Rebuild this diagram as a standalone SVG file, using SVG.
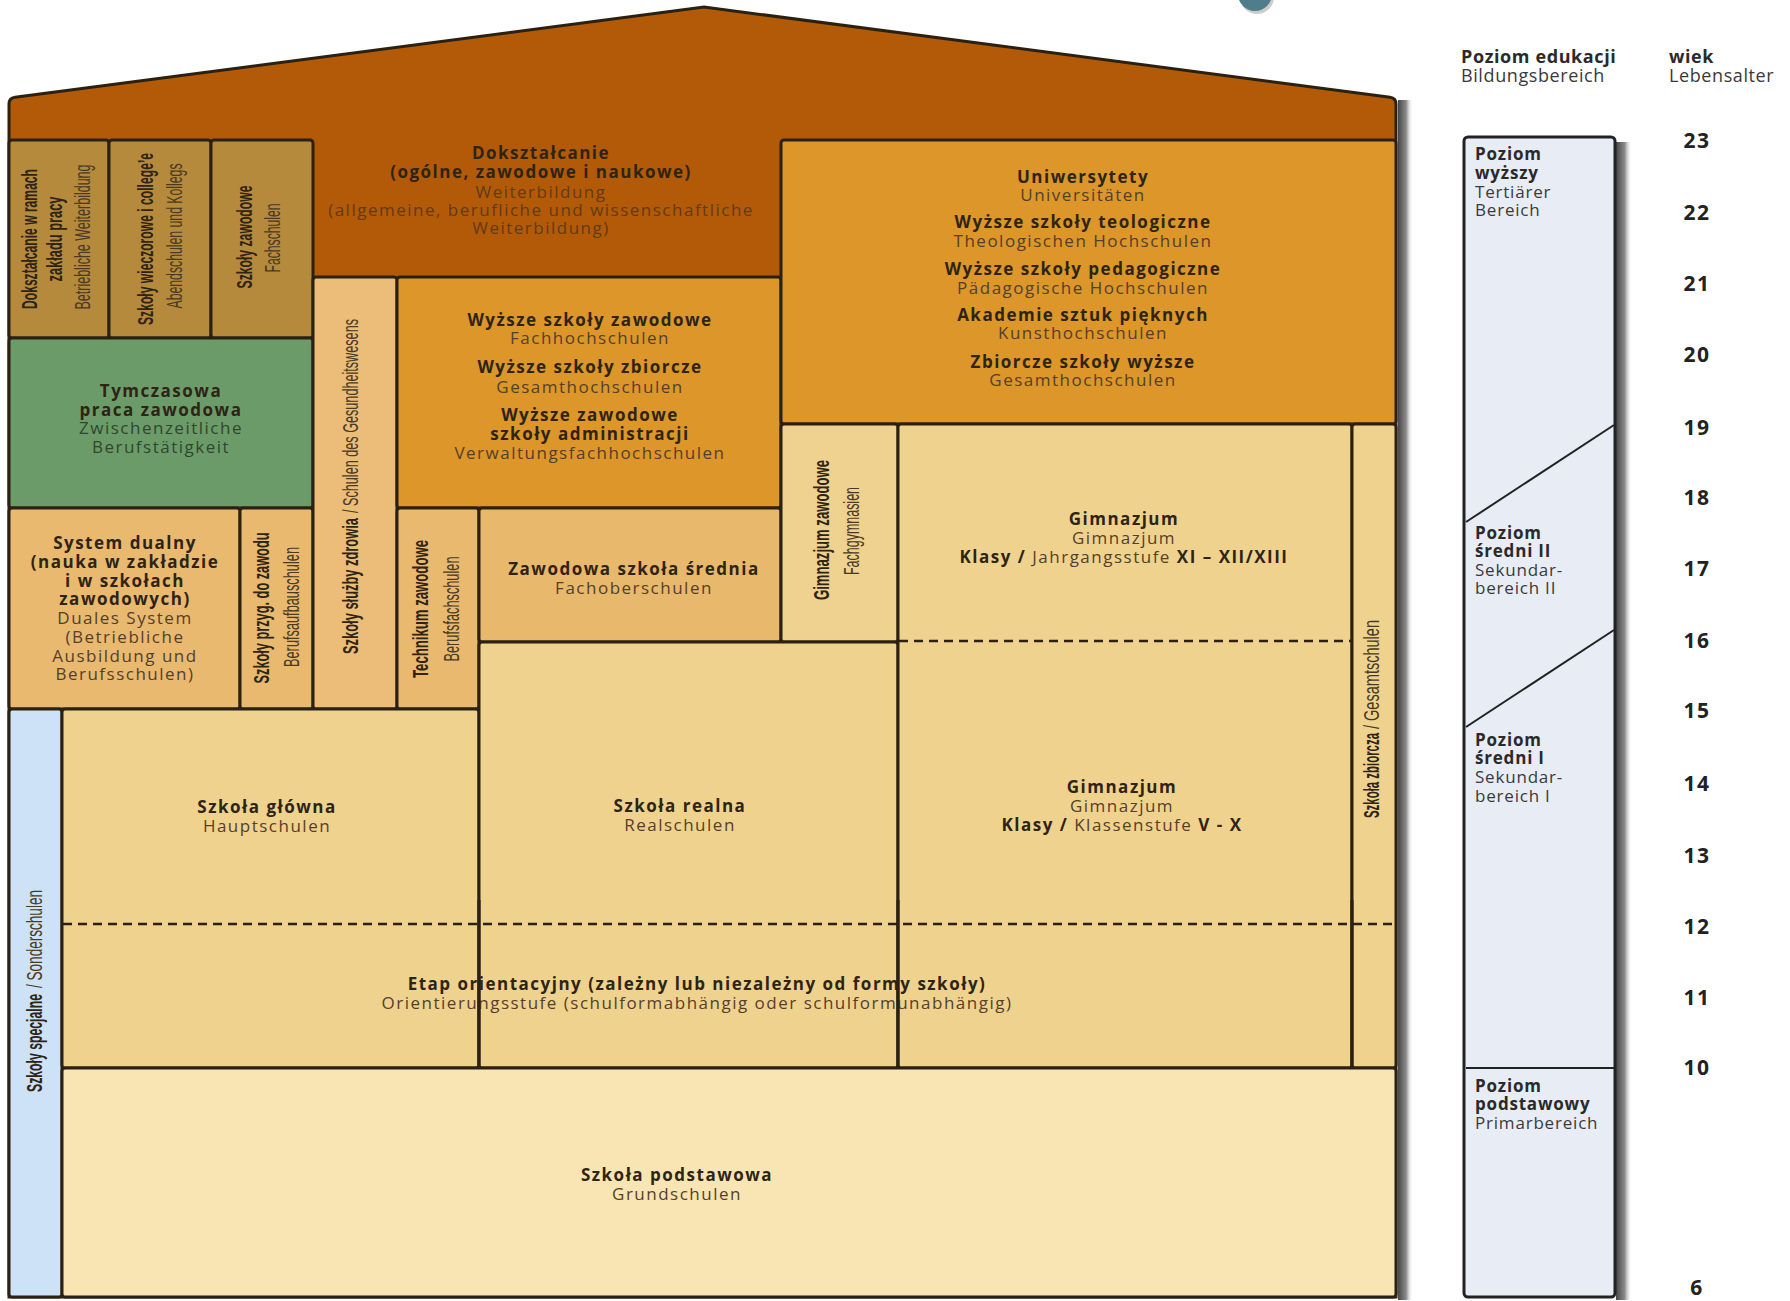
<svg xmlns="http://www.w3.org/2000/svg" width="1790" height="1301" viewBox="0 0 1790 1301">
<defs>
<linearGradient id="sh" x1="0" y1="0" x2="1" y2="0">
<stop offset="0" stop-color="#474747"/>
<stop offset="0.55" stop-color="#8c8c8c"/>
<stop offset="1" stop-color="#ffffff" stop-opacity="0"/>
</linearGradient>
<style>
.box{stroke:#2b2112;stroke-width:3}
.b{font-family:"Open Sans","DejaVu Sans",sans-serif;font-weight:700;font-size:17px;letter-spacing:1.5px;fill:#2e2414;text-anchor:middle}
.r{font-family:"Open Sans","DejaVu Sans",sans-serif;font-weight:400;font-size:17px;letter-spacing:1.5px;fill:#54402a;text-anchor:middle}
.rd{fill:#633a14}
.rg{fill:#2f472d}
.bw{font-weight:700;fill:#2e2414}
.vb{font-family:"Liberation Sans",Arial,sans-serif;font-weight:700;font-size:22px;fill:#2e2414}
.vr{font-family:"Liberation Sans",Arial,sans-serif;font-weight:400;font-size:22px;fill:#4a3a22}
.m{text-anchor:middle}
.pb{font-family:"Open Sans","DejaVu Sans",sans-serif;font-weight:700;font-size:17px;letter-spacing:0.8px;fill:#2a2a2a}
.pr{font-family:"Open Sans","DejaVu Sans",sans-serif;font-weight:400;font-size:17px;letter-spacing:0.8px;fill:#3a3a3a}
.hb{font-family:"Open Sans","DejaVu Sans",sans-serif;font-weight:700;font-size:18px;letter-spacing:0.6px;fill:#2a2a2a}
.hr{font-family:"Open Sans","DejaVu Sans",sans-serif;font-weight:400;font-size:18px;letter-spacing:0.6px;fill:#3a3a3a}
.age{font-family:"Open Sans","DejaVu Sans",sans-serif;font-weight:700;font-size:21px;letter-spacing:1.5px;fill:#222;text-anchor:middle}
.dash{stroke:#2b2112;stroke-width:2.5;stroke-dasharray:9 6;fill:none}
.sol{stroke:#2b2112;stroke-width:3;fill:none}
</style>
</defs>
<rect width="1790" height="1301" fill="#ffffff"/>

<g id="ornament">
<circle cx="1257" cy="-3" r="17" fill="#9a9a9a" opacity="0.5"/>
<circle cx="1255" cy="-6" r="17" fill="#4f7d8c"/>
</g>

<g id="house">
<rect x="1398" y="100" width="15" height="1200" fill="url(#sh)"/>
<path d="M9,1297 L9,104 Q9,98 15,97.2 L704,7 L1390,97.2 Q1396,98 1396,104 L1396,1297 Z" fill="#b25a08" stroke="#2b2112" stroke-width="3"/>
</g>

<g id="doksztalcanie">
<text class="b" x="541" y="159">Dokształcanie</text>
<text class="b" x="541" y="178">(ogólne, zawodowe i naukowe)</text>
<text class="r rd" x="541" y="198">Weiterbildung</text>
<text class="r rd" x="541" y="216">(allgemeine, berufliche und wissenschaftliche</text>
<text class="r rd" x="541" y="234">Weiterbildung)</text>
</g>

<g id="betriebliche">
<rect class="box" x="9" y="140" width="100" height="198" rx="3" fill="#b68a3d"/>
<g transform="translate(37,239) rotate(-90)"><text class="vb m" textLength="140" lengthAdjust="spacingAndGlyphs">Dokształcanie w ramach</text></g>
<g transform="translate(62,239) rotate(-90)"><text class="vb m" textLength="85" lengthAdjust="spacingAndGlyphs">zakładu pracy</text></g>
<g transform="translate(90,237) rotate(-90)"><text class="vr m" textLength="145" lengthAdjust="spacingAndGlyphs">Betriebliche Weiterbildung</text></g>
</g>

<g id="abendschulen">
<rect class="box" x="109" y="140" width="102" height="198" rx="3" fill="#b68a3d"/>
<g transform="translate(153,239) rotate(-90)"><text class="vb m" textLength="172" lengthAdjust="spacingAndGlyphs">Szkoły wieczorowe i college’e</text></g>
<g transform="translate(182,236) rotate(-90)"><text class="vr m" textLength="145" lengthAdjust="spacingAndGlyphs">Abendschulen und Kollegs</text></g>
</g>

<g id="fachschulen">
<rect class="box" x="211" y="140" width="102" height="198" rx="3" fill="#b68a3d"/>
<g transform="translate(252,237) rotate(-90)"><text class="vb m" textLength="103" lengthAdjust="spacingAndGlyphs">Szkoły zawodowe</text></g>
<g transform="translate(280,238) rotate(-90)"><text class="vr m" textLength="69" lengthAdjust="spacingAndGlyphs">Fachschulen</text></g>
</g>

<g id="tymczasowa">
<rect class="box" x="9" y="338" width="304" height="170" rx="3" fill="#6c9b6a"/>
<text class="b" x="161" y="397">Tymczasowa</text>
<text class="b" x="161" y="416">praca zawodowa</text>
<text class="r rg" x="161" y="434">Zwischenzeitliche</text>
<text class="r rg" x="161" y="453">Berufstätigkeit</text>
</g>

<g id="dualny">
<rect class="box" x="9" y="508" width="231" height="201" rx="3" fill="#e9b96f"/>
<text class="b" x="125" y="549">System dualny</text>
<text class="b" x="125" y="568">(nauka w zakładzie</text>
<text class="b" x="125" y="587">i w szkołach</text>
<text class="b" x="125" y="605">zawodowych)</text>
<text class="r" x="125" y="624">Duales System</text>
<text class="r" x="125" y="643">(Betriebliche</text>
<text class="r" x="125" y="662">Ausbildung und</text>
<text class="r" x="125" y="680">Berufsschulen)</text>
</g>

<g id="berufsaufbauschulen">
<rect class="box" x="240" y="508" width="73" height="201" rx="3" fill="#e9b96f"/>
<g transform="translate(269,608) rotate(-90)"><text class="vb m" textLength="151" lengthAdjust="spacingAndGlyphs">Szkoły przyg. do zawodu</text></g>
<g transform="translate(299,607) rotate(-90)"><text class="vr m" textLength="120" lengthAdjust="spacingAndGlyphs">Berufsaufbauschulen</text></g>
</g>

<g id="gesundheitswesen">
<rect class="box" x="313" y="277" width="84" height="432" rx="3" fill="#ebbd78"/>
<g transform="translate(358,654) rotate(-90)">
<text class="vb" x="0" y="0" textLength="136" lengthAdjust="spacingAndGlyphs">Szkoły służby zdrowia</text>
<text class="vr" x="141" y="0" textLength="194" lengthAdjust="spacingAndGlyphs">/ Schulen des Gesundheitswesens</text>
</g>
</g>

<g id="fachhochschulen">
<rect class="box" x="397" y="277" width="384" height="231" rx="3" fill="#dc9629"/>
<text class="b" x="590" y="326">Wyższe szkoły zawodowe</text>
<text class="r" x="590" y="344">Fachhochschulen</text>
<text class="b" x="590" y="373">Wyższe szkoły zbiorcze</text>
<text class="r" x="590" y="393">Gesamthochschulen</text>
<text class="b" x="590" y="421">Wyższe zawodowe</text>
<text class="b" x="590" y="440">szkoły administracji</text>
<text class="r" x="590" y="459">Verwaltungsfachhochschulen</text>
</g>

<g id="berufsfachschulen">
<rect class="box" x="397" y="508" width="82" height="201" rx="3" fill="#e9b96f"/>
<g transform="translate(428,609) rotate(-90)"><text class="vb m" textLength="138" lengthAdjust="spacingAndGlyphs">Technikum zawodowe</text></g>
<g transform="translate(459,609) rotate(-90)"><text class="vr m" textLength="105" lengthAdjust="spacingAndGlyphs">Berufsfachschulen</text></g>
</g>

<g id="fachoberschulen">
<rect class="box" x="479" y="508" width="302" height="134" rx="3" fill="#e8b86d"/>
<text class="b" x="634" y="575">Zawodowa szkoła średnia</text>
<text class="r" x="634" y="594">Fachoberschulen</text>
</g>

<g id="universitaeten">
<rect class="box" x="781" y="140" width="615" height="284" rx="3" fill="#dc9629"/>
<text class="b" x="1083" y="183">Uniwersytety</text>
<text class="r" x="1083" y="201">Universitäten</text>
<text class="b" x="1083" y="228">Wyższe szkoły teologiczne</text>
<text class="r" x="1083" y="247">Theologischen Hochschulen</text>
<text class="b" x="1083" y="275">Wyższe szkoły pedagogiczne</text>
<text class="r" x="1083" y="294">Pädagogische Hochschulen</text>
<text class="b" x="1083" y="321">Akademie sztuk pięknych</text>
<text class="r" x="1083" y="339">Kunsthochschulen</text>
<text class="b" x="1083" y="368">Zbiorcze szkoły wyższe</text>
<text class="r" x="1083" y="386">Gesamthochschulen</text>
</g>

<g id="fachgymnasien">
<rect class="box" x="781" y="424" width="117" height="218" rx="3" fill="#f0d290"/>
<g transform="translate(829,530) rotate(-90)"><text class="vb m" textLength="140" lengthAdjust="spacingAndGlyphs">Gimnazjum zawodowe</text></g>
<g transform="translate(859,531) rotate(-90)"><text class="vr m" textLength="88" lengthAdjust="spacingAndGlyphs">Fachgymnasien</text></g>
</g>

<g id="sonderschulen">
<rect class="box" x="9" y="709" width="53" height="588" rx="3" fill="#cde1f7"/>
<g transform="translate(42,1092) rotate(-90)">
<text class="vb" x="0" y="0" textLength="98" lengthAdjust="spacingAndGlyphs">Szkoły specjalne</text>
<text class="vr" x="104" y="0" textLength="98" lengthAdjust="spacingAndGlyphs">/ Sonderschulen</text>
</g>
</g>

<g id="hauptschulen">
<rect class="box" x="62" y="709" width="417" height="359" rx="3" fill="#f0d28f"/>
<text class="b" x="267" y="813">Szkoła główna</text>
<text class="r" x="267" y="832">Hauptschulen</text>
</g>

<g id="realschulen">
<rect class="box" x="479" y="642" width="419" height="426" rx="3" fill="#f0d28f"/>
<text class="b" x="680" y="812">Szkoła realna</text>
<text class="r" x="680" y="831">Realschulen</text>
</g>

<g id="gymnasium">
<rect class="box" x="898" y="424" width="454" height="644" rx="3" fill="#f0d28f"/>
<text class="b" x="1124" y="525">Gimnazjum</text>
<text class="r" x="1124" y="544">Gimnazjum</text>
<text class="r" x="1124" y="563"><tspan class="bw">Klasy /</tspan> Jahrgangsstufe <tspan class="bw">XI – XII/XIII</tspan></text>
<text class="b" x="1122" y="793">Gimnazjum</text>
<text class="r" x="1122" y="812">Gimnazjum</text>
<text class="r" x="1122" y="831"><tspan class="bw">Klasy /</tspan> Klassenstufe <tspan class="bw">V - X</tspan></text>
</g>

<g id="gesamtschulen">
<rect class="box" x="1352" y="424" width="44" height="644" rx="3" fill="#f0d28f"/>
<g transform="translate(1379,818) rotate(-90)">
<text class="vb" x="0" y="0" textLength="85" lengthAdjust="spacingAndGlyphs">Szkoła zbiorcza</text>
<text class="vr" x="89" y="0" textLength="109" lengthAdjust="spacingAndGlyphs">/ Gesamtschulen</text>
</g>
</g>

<g id="orientierungsstufe">
<text class="b" x="697" y="990">Etap orientacyjny (zależny lub niezależny od formy szkoły)</text>
<text class="r" x="697" y="1009">Orientierungsstufe (schulformabhängig oder schulformunabhängig)</text>
</g>

<g id="grundschulen">
<rect class="box" x="62" y="1068" width="1334" height="229" rx="3" fill="#f8e5b3"/>
<text class="b" x="677" y="1181">Szkoła podstawowa</text>
<text class="r" x="677" y="1200">Grundschulen</text>
</g>

<g id="connectors">
<line class="dash" x1="899" y1="641" x2="1351" y2="641"/>
<line class="dash" x1="63" y1="924" x2="1395" y2="924"/>
<line class="sol" x1="479" y1="900" x2="479" y2="1068"/>
<line class="sol" x1="898" y1="900" x2="898" y2="1068"/>
<line class="sol" x1="1352" y1="900" x2="1352" y2="1068"/>
</g>

<g id="legend-header">
<text class="hb" x="1461" y="63">Poziom edukacji</text>
<text class="hr" x="1461" y="82">Bildungsbereich</text>
<text class="hb" x="1669" y="63">wiek</text>
<text class="hr" x="1669" y="82">Lebensalter</text>
</g>

<g id="levels">
<rect x="1616" y="142" width="16" height="1158" fill="url(#sh)"/>
<rect x="1464" y="137" width="151" height="1160" rx="4" fill="#e8ecf5" stroke="#222" stroke-width="3"/>
<line x1="1466" y1="522" x2="1614" y2="425" stroke="#222" stroke-width="2"/>
<line x1="1466" y1="727" x2="1614" y2="630" stroke="#222" stroke-width="2"/>
<line x1="1466" y1="1068" x2="1614" y2="1068" stroke="#222" stroke-width="2"/>
<text class="pb" x="1475" y="160">Poziom</text>
<text class="pb" x="1475" y="179">wyższy</text>
<text class="pr" x="1475" y="198">Tertiärer</text>
<text class="pr" x="1475" y="216">Bereich</text>
<text class="pb" x="1475" y="539">Poziom</text>
<text class="pb" x="1475" y="557">średni II</text>
<text class="pr" x="1475" y="576">Sekundar-</text>
<text class="pr" x="1475" y="594">bereich II</text>
<text class="pb" x="1475" y="746">Poziom</text>
<text class="pb" x="1475" y="764">średni I</text>
<text class="pr" x="1475" y="783">Sekundar-</text>
<text class="pr" x="1475" y="802">bereich I</text>
<text class="pb" x="1475" y="1092">Poziom</text>
<text class="pb" x="1475" y="1110">podstawowy</text>
<text class="pr" x="1475" y="1129">Primarbereich</text>
</g>

<g id="ages">
<text class="age" x="1697" y="148">23</text>
<text class="age" x="1697" y="220">22</text>
<text class="age" x="1697" y="291">21</text>
<text class="age" x="1697" y="362">20</text>
<text class="age" x="1697" y="435">19</text>
<text class="age" x="1697" y="505">18</text>
<text class="age" x="1697" y="576">17</text>
<text class="age" x="1697" y="648">16</text>
<text class="age" x="1697" y="718">15</text>
<text class="age" x="1697" y="791">14</text>
<text class="age" x="1697" y="863">13</text>
<text class="age" x="1697" y="934">12</text>
<text class="age" x="1697" y="1005">11</text>
<text class="age" x="1697" y="1075">10</text>
<text class="age" x="1697" y="1295">6</text>
</g>
</svg>
